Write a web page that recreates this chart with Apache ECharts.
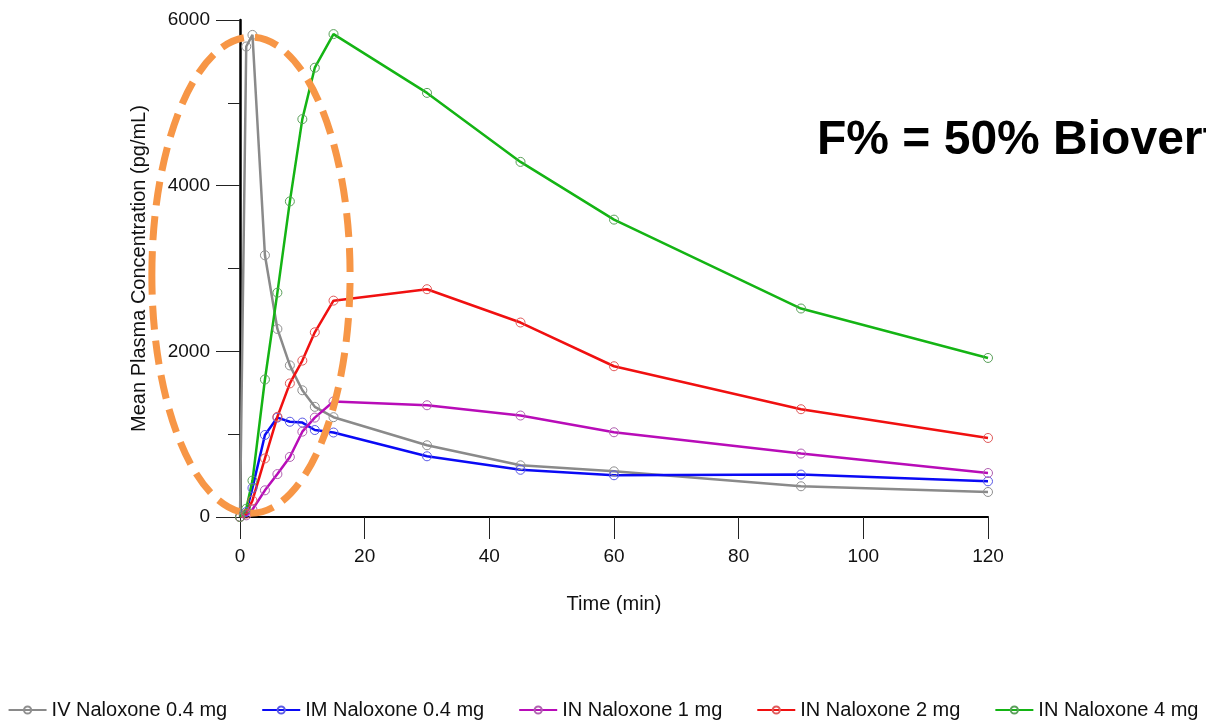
<!DOCTYPE html>
<html>
<head>
<meta charset="utf-8">
<script src="https://cdn.jsdelivr.net/npm/echarts@6/dist/echarts.min.js"></script>
<style>
    html, body { margin: 0; padding: 0; background: #fff; }
    #main { width: 1206px; height: 723px; }
</style>
</head>
<body>
<div id="main"></div>
<script>
// sampling times (min)
const times = [0, 1, 2, 4, 6, 8, 10, 12, 15, 30, 45, 60, 90, 120];

// mean plasma concentration (pg/mL)
const ivNal04 = [0, 5680, 5820, 3160, 2270, 1830, 1530, 1330, 1205, 866, 624, 551, 371, 302];
const imNal04 = [0, 60, 350, 990, 1200, 1150, 1140, 1050, 1020, 733, 570, 504, 512, 431];
const inNal1 = [0, 20, 90, 322, 518, 725, 1030, 1200, 1395, 1349, 1225, 1023, 766, 531];
const inNal2 = [0, 40, 200, 707, 1210, 1613, 1888, 2230, 2612, 2750, 2348, 1820, 1301, 954];
const inNal4 = [0, 100, 440, 1660, 2708, 3810, 4803, 5424, 5830, 5120, 4287, 3590, 2517, 1920];

const seriesNames = ['IV Naloxone 0.4 mg', 'IM Naloxone 0.4 mg', 'IN Naloxone 1 mg', 'IN Naloxone 2 mg', 'IN Naloxone 4 mg'];
const seriesValues = [ivNal04, imNal04, inNal1, inNal2, inNal4];
const lineColors = ['#8a8a8a', '#0a0af5', '#b80cb8', '#f01010', '#14b414'];
const markerColors = ['#8f8f8f', '#5a5ae6', '#b060b0', '#e05a5a', '#5aa05a'];

// highlighted region (data units): centre [min, pg/mL], radii [min, pg/mL]
const ellipseCenter = [1.76, 2919];
const ellipseRadius = [15.9, 2874];

const titleText = 'F% = 50% Bioverfügbarkeit';

const FONT = 'Liberation Sans, Arial, sans-serif';

const chartDom = document.getElementById('main');
const myChart = echarts.init(chartDom, null, { renderer: 'canvas' });

const series = seriesNames.map((name, i) => ({
    name: name,
    type: 'line',
    data: times.map((t, j) => [t, seriesValues[i][j]]),
    symbol: 'circle',
    symbolSize: 9,
    showSymbol: true,
    lineStyle: {
        color: lineColors[i],
        width: 2.5
    },
    itemStyle: {
        color: 'transparent',
        borderColor: markerColors[i],
        borderWidth: 1
    },
    emphasis: { disabled: true }
}));

myChart.setOption({
    animation: false,
    backgroundColor: '#fff',
    grid: {
        left: 240,
        right: 218,
        top: 20,
        bottom: 206,
        containLabel: false
    },
    legend: {
        left: 'center',
        top: 695,
        itemGap: 34,
        itemWidth: 38,
        itemHeight: 9,
        textStyle: {
            fontFamily: FONT,
            fontSize: 20,
            color: '#111'
        },
        data: seriesNames
    },
    xAxis: {
        type: 'value',
        min: 0,
        max: 120,
        interval: 20,
        name: 'Time (min)',
        nameLocation: 'middle',
        nameGap: 77,
        nameTextStyle: {
            fontFamily: FONT,
            fontSize: 20,
            color: '#111'
        },
        axisLine: { show: true, onZero: false, lineStyle: { color: '#000', width: 2 } },
        axisTick: { show: true, inside: false, length: 22, lineStyle: { color: '#222', width: 1 } },
        axisLabel: {
            margin: 30,
            fontFamily: FONT,
            fontSize: 19,
            color: '#111'
        },
        splitLine: { show: false }
    },
    yAxis: {
        type: 'value',
        min: 0,
        max: 6000,
        interval: 2000,
        name: 'Mean Plasma Concentration (pg/mL)',
        nameLocation: 'middle',
        nameGap: 91,
        nameTextStyle: {
            fontFamily: FONT,
            fontSize: 20,
            color: '#111'
        },
        axisLine: { show: true, lineStyle: { color: '#000', width: 2.5 } },
        axisTick: { show: true, inside: false, length: 24, lineStyle: { color: '#222', width: 1 } },
        minorTick: { show: true, splitNumber: 2, length: 12, lineStyle: { color: '#222', width: 1 } },
        axisLabel: {
            margin: 30,
            fontFamily: FONT,
            fontSize: 19,
            color: '#111',
            formatter: value => String(value)
        },
        splitLine: { show: false },
        minorSplitLine: { show: false }
    },
    series: series
});

// ellipse and headline go on top, positioned through the grid's own scales
const c = myChart.convertToPixel({ gridIndex: 0 }, ellipseCenter);
const edge = myChart.convertToPixel({ gridIndex: 0 }, [
    ellipseCenter[0] + ellipseRadius[0],
    ellipseCenter[1] + ellipseRadius[1]
]);

myChart.setOption({
    graphic: [
        {
            type: 'ellipse',
            z: 100,
            silent: true,
            shape: {
                cx: c[0],
                cy: c[1],
                rx: edge[0] - c[0],
                ry: c[1] - edge[1]
            },
            style: {
                fill: null,
                stroke: '#f79646',
                lineWidth: 7,
                lineDash: [24, 11]
            }
        },
        {
            type: 'text',
            z: 100,
            x: 817,
            y: 141,
            silent: true,
            style: {
                text: titleText,
                font: 'bold 48px ' + FONT,
                fill: '#000',
                verticalAlign: 'middle'
            }
        }
    ]
});
</script>
</body>
</html>
